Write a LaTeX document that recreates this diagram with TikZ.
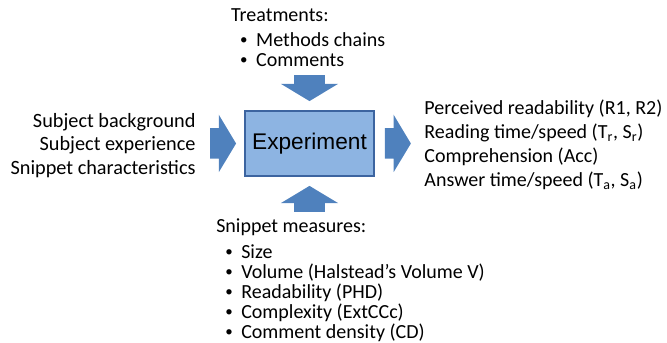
\documentclass[tikz,border=0pt]{standalone}
\usepackage{fontspec}
\setmainfont{Carlito}
\newfontfamily\arialfont{Liberation Sans}
\usetikzlibrary{positioning, shapes.arrows}

\definecolor{boxfill}{RGB}{141,180,226}
\definecolor{boxline}{RGB}{60,100,160}
\definecolor{arrowblue}{RGB}{79,129,189}

\newcommand{\bitem}[1]{\hspace*{6.75pt}\makebox[12pt][l]{\raisebox{0.2ex}{\scalebox{0.75}{\textbullet}}}#1}

\begin{document}
\begin{tikzpicture}[
    expbox/.style={rectangle, draw=boxline, line width=0.9pt, fill=boxfill, minimum width=96.75pt, minimum height=48.75pt, font=\arialfont\fontsize{17}{20}\selectfont},
    fatarrow/.style={single arrow, draw=none, fill=arrowblue, minimum height=19.5pt, inner xsep=0pt, inner ysep=11.25pt, single arrow head extend=10.1pt, single arrow tip angle=118},
    sidetext/.style={inner sep=0pt, font=\fontsize{15.2}{17.6}\selectfont},
    listtext/.style={inner sep=0pt, align=left, font=\fontsize{15}{15}\selectfont},
    node distance=6pt
]

% --- Frame ---
\useasboundingbox (-232.1pt,-148.9pt) rectangle (268.1pt,107.6pt);

% --- Experiment box ---
\node[expbox] (exp) at (0,0) {Experiment};

% --- Block arrows ---
\node[fatarrow, anchor=tip] (larr) at ([xshift=-6pt]exp.west) {};
\node[fatarrow, anchor=tail] (rarr) at ([xshift=7.5pt]exp.east) {};
\node[fatarrow, rotate=270, anchor=tip] (tarr) at ([yshift=6.75pt]exp.north) {};
\node[fatarrow, rotate=90, anchor=tip] (barr) at ([yshift=-6.75pt]exp.south) {};

% --- Inputs ---
\node[sidetext, align=right, left=10.5pt of larr.tail, yshift=-1.5pt] (inputs)
    {Subject background\\ Subject experience\\ Snippet characteristics};

% --- Outputs ---
\node[sidetext, align=left, right=9.75pt of rarr.tip, yshift=-1pt, font=\fontsize{15}{18.2}\selectfont] (outputs)
    {Perceived readability (R1, R2)\\
     Reading time/speed (T\textsubscript{r}, S\textsubscript{r})\\
     Comprehension (Acc)\\
     Answer time/speed (T\textsubscript{a}, S\textsubscript{a})};

% --- Treatments ---
\node[listtext, anchor=north west] (treat) at ([xshift=-58.9pt, yshift=101.6pt]exp.center)
    {Treatments:\\[4pt]
     \bitem{Methods chains}\\
     \bitem{Comments}};

% --- Snippet measures ---
\node[listtext, anchor=north west] (measures) at ([xshift=-70.1pt, yshift=-56.6pt]exp.center)
    {Snippet measures:\\[4pt]
     \bitem{Size}\\
     \bitem{Volume (Halstead’s Volume V)}\\
     \bitem{Readability (PHD)}\\
     \bitem{Complexity (ExtCCc)}\\
     \bitem{Comment density (CD)}};

\end{tikzpicture}
\end{document}
